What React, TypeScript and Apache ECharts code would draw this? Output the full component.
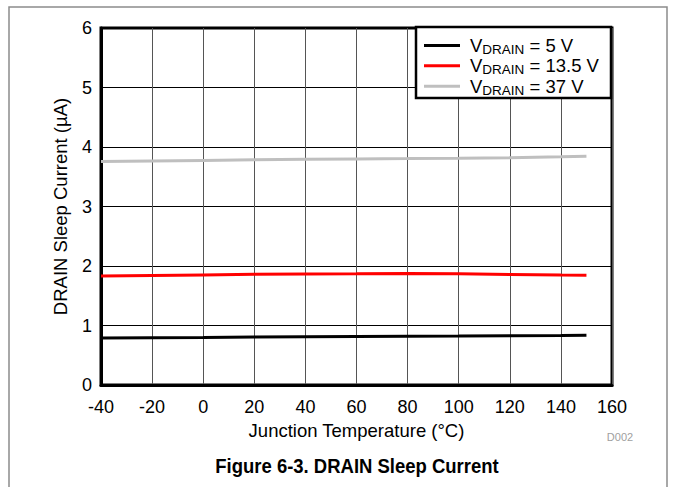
import React, { useEffect, useRef } from "react";
import * as echarts from "echarts";

const temps = [-40, -20, 0, 20, 40, 60, 80, 100, 120, 140, 150];
const v5 = [0.79, 0.795, 0.8, 0.808, 0.812, 0.817, 0.82, 0.822, 0.826, 0.83, 0.835];
const v13 = [1.83, 1.84, 1.85, 1.86, 1.866, 1.87, 1.876, 1.868, 1.857, 1.847, 1.845];
const v37 = [3.755, 3.765, 3.775, 3.785, 3.795, 3.8, 3.805, 3.812, 3.82, 3.835, 3.845];
const seriesNames = ["VDRAIN = 5 V", "VDRAIN = 13.5 V", "VDRAIN = 37 V"];
const seriesColors = ["#000000", "#ff0000", "#bfbfbf"];
const xTicks = { min: -40, max: 160, interval: 20 };
const yTicks = { min: 0, max: 6, interval: 1 };

const FONT = "'Liberation Sans', Arial, Helvetica, sans-serif";

export default function App() {
  const ref = useRef<HTMLDivElement>(null);
  useEffect(() => {
    const chart = echarts.init(ref.current!, null, { renderer: "svg" });
    const data = [v5, v13, v37];
    const option: any = {
      animation: false,
      textStyle: { fontFamily: FONT },
      grid: {
        left: 101,
        right: 64,
        top: 28,
        bottom: 102,
        show: true,
        borderColor: "#000",
        borderWidth: 3,
        backgroundColor: "transparent",
      },
      xAxis: {
        type: "value",
        min: xTicks.min,
        max: xTicks.max,
        interval: xTicks.interval,
        axisLine: { show: true, onZero: false, lineStyle: { color: "#000", width: 3 } },
        axisTick: { show: false },
        axisLabel: { color: "#000", fontSize: 18, fontFamily: FONT, margin: 13 },
        splitLine: { show: true, lineStyle: { color: "#555", width: 1 } },
        name: "Junction Temperature (°C)",
        nameLocation: "middle",
        nameGap: 27,
        nameTextStyle: { color: "#000", fontSize: 18.5, fontFamily: FONT },
      },
      yAxis: {
        type: "value",
        min: yTicks.min,
        max: yTicks.max,
        interval: yTicks.interval,
        axisLine: { show: true, onZero: false, lineStyle: { color: "#000", width: 3 } },
        axisTick: { show: false },
        axisLabel: { color: "#000", fontSize: 18, fontFamily: FONT, margin: 9 },
        splitLine: { show: true, lineStyle: { color: "#000", width: 1 } },
        name: "DRAIN Sleep Current (µA)",
        nameLocation: "middle",
        nameGap: 31,
        nameTextStyle: { color: "#000", fontSize: 18.5, fontFamily: FONT },
      },
      legend: {
        show: true,
        orient: "vertical",
        left: 424,
        top: 36,
        itemWidth: 36,
        itemHeight: 3,
        itemGap: 0,
        icon: "rect",
        padding: 0,
        data: seriesNames,
        formatter: (name: string) => {
          const rest = name.replace("VDRAIN", "");
          return `{v|V}{s|DRAIN}{v|${rest}}`;
        },
        textStyle: {
          color: "#000",
          fontFamily: FONT,
          padding: [0, 0, 0, 5],
          rich: {
            v: { fontSize: 18.5, lineHeight: 21.7, color: "#000", fontFamily: FONT, verticalAlign: "middle" },
            s: { fontSize: 13.5, lineHeight: 21.7, color: "#000", fontFamily: FONT, verticalAlign: "bottom" },
          },
        },
      },
      graphic: [
        {
          type: "rect",
          z: 3,
          shape: { x: 416, y: 27, width: 195, height: 71 },
          style: { fill: "#fff", stroke: "#000", lineWidth: 2.5 },
        },
        {
          type: "rect",
          z: 1,
          silent: true,
          shape: { x: 9, y: 7, width: 658, height: 520 },
          style: { fill: "none", stroke: "#8c8c8c", lineWidth: 1.5 },
        },
        {
          type: "text",
          x: 357,
          y: 466,
          scaleY: 1.12,
          style: {
            text: "Figure 6-3. DRAIN Sleep Current",
            fontSize: 18.5,
            fontWeight: "bold",
            fontFamily: FONT,
            fill: "#000",
            textAlign: "center",
            textVerticalAlign: "middle",
          },
        },
        {
          type: "text",
          x: 620,
          y: 437,
          style: {
            text: "D002",
            fontSize: 11,
            fontFamily: FONT,
            fill: "#a0a0a0",
            textAlign: "center",
            textVerticalAlign: "middle",
          },
        },
      ],
      series: seriesNames.map((n, i) => ({
        name: n,
        type: "line",
        symbol: "none",
        z: 2,
        color: seriesColors[i],
        lineStyle: { color: seriesColors[i], width: 3 },
        data: temps.map((t, j) => [t, data[i][j]]),
      })),
    };
    chart.setOption(option);
    return () => chart.dispose();
  }, []);
  return (
    <div
      ref={ref}
      style={{ position: "fixed", left: 0, top: 0, width: 676, height: 487, background: "#fff" }}
    />
  );
}
